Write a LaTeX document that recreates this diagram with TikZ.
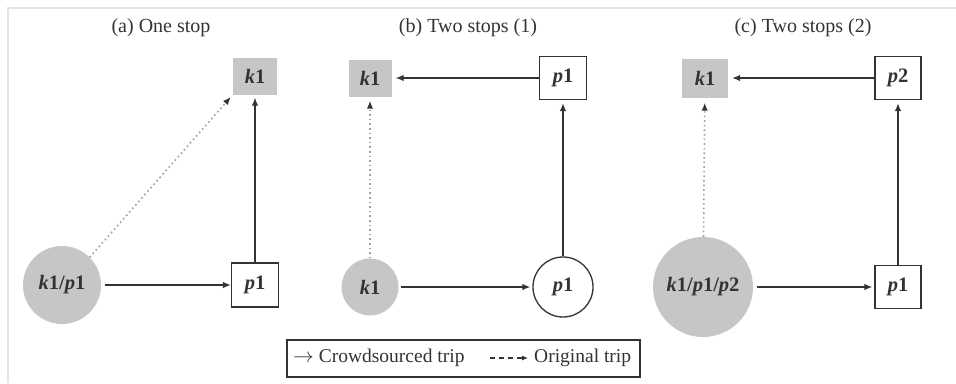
\documentclass[tikz,border=0pt]{standalone}
\usepackage{fontspec}
\setmainfont{Liberation Serif}
\usetikzlibrary{arrows.meta}
\definecolor{ink}{HTML}{333333}
\definecolor{shade}{HTML}{C6C6C6}
\definecolor{dotgray}{HTML}{A0A0A0}
\definecolor{framegray}{HTML}{E4E4E4}
\newcommand{\lbl}[1]{{\bfseries #1}}
\begin{document}
\begin{tikzpicture}[x=1pt,y=-1pt,
  every node/.style={text=ink, font=\fontsize{20.5}{22}\selectfont},
  title/.style={font=\fontsize{20}{22}\selectfont},
  legendtext/.style={font=\fontsize{19.5}{22}\selectfont},
  stopbox/.style={draw=ink, line width=1.3pt, fill=white, inner sep=0pt},
  origbox/.style={fill=shade, inner sep=0pt},
  origcirc/.style={circle, fill=shade, inner sep=0pt},
  stopcirc/.style={circle, draw=ink, line width=1.3pt, fill=white, inner sep=0pt},
  trip/.style={draw=ink, line width=1.3pt, -{Latex[length=8pt,width=6.5pt]}},
  origtrip/.style={draw=dotgray, line width=1.6pt, dash pattern=on 1.6pt off 3pt,
     -{Latex[length=8pt,width=6.5pt,color=ink]}}]
\useasboundingbox (0,0) rectangle (956,383);
% faint frame lines along the top and left edges
\draw[framegray, line width=1.2pt] (8,383) -- (8,8) -- (956,8);

% ---- (a) One stop ----
\node[title] (ta) at (161,28) {(a) One stop};
\node[origbox, minimum width=44, minimum height=37] (ak1) at (255,76) {\lbl{\itshape k}\lbl{1}};
\node[stopbox, minimum width=47, minimum height=44] (ap1) at (255,285) {\lbl{\itshape p}\lbl{1}};
\node[origcirc, minimum size=78] (akp) at (62,285) {\lbl{\itshape k}\lbl{1/}\lbl{\itshape p}\lbl{1}};
\draw[trip, shorten <=4pt] (akp) -- (ap1);
\draw[trip, shorten >=3pt] (ap1) -- (ak1);
\draw[origtrip, shorten >=3pt] (akp.45) -- (ak1.south west);

% ---- (b) Two stops (1) ----
\node[title] (tb) at (468,28) {(b) Two stops (1)};
\node[origbox, minimum width=43, minimum height=37] (bk1) at (370,78) {\lbl{\itshape k}\lbl{1}};
\node[stopbox, minimum width=47, minimum height=43] (bp1) at (563,78) {\lbl{\itshape p}\lbl{1}};
\node[origcirc, minimum size=57] (bk) at (370,287) {\lbl{\itshape k}\lbl{1}};
\node[stopcirc, minimum size=60] (bp) at (563,287) {\lbl{\itshape p}\lbl{1}};
\draw[trip, shorten <=2pt, shorten >=2pt] (bk) -- (bp);
\draw[trip, shorten >=3pt] (bp) -- (bp1);
\draw[trip, shorten >=4pt] (bp1) -- (bk1);
\draw[origtrip, shorten >=4pt] (bk) -- (bk1);

% ---- (c) Two stops (2) ----
\node[title] (tc) at (803,28) {(c) Two stops (2)};
\node[origbox, minimum width=46, minimum height=39] (ck1) at (705,78) {\lbl{\itshape k}\lbl{1}};
\node[stopbox, minimum width=46, minimum height=43] (cp2) at (898,78) {\lbl{\itshape p}\lbl{2}};
\node[origcirc, minimum size=100] (ckp) at (703,287) {\lbl{\itshape k}\lbl{1/}\lbl{\itshape p}\lbl{1/}\lbl{\itshape p}\lbl{2}};
\node[stopbox, minimum width=46, minimum height=43] (cp1) at (898,287) {\lbl{\itshape p}\lbl{1}};
\draw[trip, shorten <=4pt, shorten >=2pt] (ckp) -- (cp1);
\draw[trip, shorten >=3pt] (cp1) -- (cp2);
\draw[trip, shorten >=4pt] (cp2) -- (ck1);
\draw[origtrip, shorten >=5pt] (ckp) -- (ck1);

% ---- legend ----
\node[draw=ink, line width=1.1pt, minimum width=353, minimum height=37] (legend) at (463.5,358.5) {};
\node[legendtext, anchor=west, inner sep=0pt] (lcrowd) at (293,358) {$\rightarrow$ Crowdsourced trip};
\coordinate (dstart) at (490,358);
\coordinate (dend) at (528,358);
\draw[draw=ink, line width=1.1pt, dash pattern=on 5pt off 4pt,
      -{Latex[length=6pt,width=5pt]}] (dstart) -- (dend);
\node[legendtext, anchor=west, inner sep=0pt] (lorig) at (534,358) {Original trip};
\end{tikzpicture}
\end{document}
